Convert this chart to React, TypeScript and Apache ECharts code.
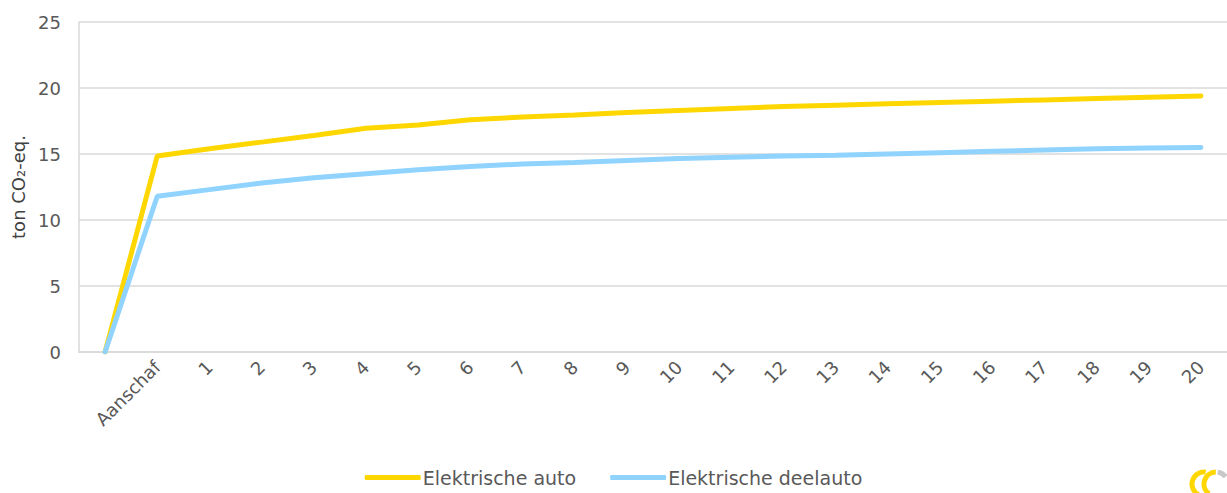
import React, { useEffect, useRef } from "react";
import * as echarts from "echarts";

const categories = ["", "Aanschaf", "1", "2", "3", "4", "5", "6", "7", "8", "9", "10", "11", "12", "13", "14", "15", "16", "17", "18", "19", "20"];
const elektrischeAuto = [0, 14.85, 15.4, 15.9, 16.4, 16.95, 17.2, 17.6, 17.8, 17.95, 18.15, 18.3, 18.45, 18.6, 18.7, 18.8, 18.9, 19.0, 19.1, 19.2, 19.3, 19.4];
const elektrischeDeelauto = [0, 11.8, 12.3, 12.8, 13.2, 13.5, 13.8, 14.05, 14.25, 14.35, 14.5, 14.65, 14.75, 14.85, 14.9, 15.0, 15.1, 15.2, 15.3, 15.4, 15.45, 15.5];
const seriesNames = ["Elektrische auto", "Elektrische deelauto"];
const colors = ["#FFD700", "#8FD3FE"];

export default function App() {
  const ref = useRef<HTMLDivElement>(null);
  useEffect(() => {
    if (!ref.current) return;
    const chart = echarts.init(ref.current, undefined, { renderer: "svg" });
    const font = "'DejaVu Sans', Verdana, sans-serif";
    chart.setOption({
      animation: false,
      textStyle: { fontFamily: font },
      grid: { left: 79, right: 0, top: 22, bottom: 141, containLabel: false },
      legend: {
        bottom: 1,
        left: "center",
        itemWidth: 56,
        itemHeight: 5,
        itemGap: 34,
        icon: "roundRect",
        textStyle: { fontSize: 19, color: "#595959", fontFamily: font, padding: [0, 0, 0, -3] },
        data: seriesNames,
      },
      xAxis: {
        type: "category",
        data: categories,
        boundaryGap: true,
        axisLine: { lineStyle: { color: "#d9d9d9", width: 1.5 } },
        axisTick: { show: false },
        axisLabel: { rotate: 45, fontSize: 18, color: "#595959", margin: 12, interval: 0 },
      },
      yAxis: {
        type: "value",
        min: 0,
        max: 25,
        interval: 5,
        name: "ton CO₂-eq.",
        nameLocation: "middle",
        nameGap: 52,
        nameTextStyle: { fontSize: 18, color: "#404040" },
        axisLine: { show: true, lineStyle: { color: "#d9d9d9", width: 1.5 } },
        axisTick: { show: false },
        axisLabel: { fontSize: 18, color: "#595959", margin: 18 },
        splitLine: { lineStyle: { color: "#d9d9d9", width: 1.5 } },
      },
      series: [
        {
          name: seriesNames[0],
          type: "line",
          data: elektrischeAuto,
          symbol: "none",
          lineStyle: { color: colors[0], width: 5, cap: "round" },
          itemStyle: { color: colors[0] },
        },
        {
          name: seriesNames[1],
          type: "line",
          data: elektrischeDeelauto,
          symbol: "none",
          lineStyle: { color: colors[1], width: 5, cap: "round" },
          itemStyle: { color: colors[1] },
        },
      ],
      graphic: [
        { type: "arc", x: 1204, y: 484, rotation: -0.3, shape: { cx: 0, cy: 0, r: 12, startAngle: Math.PI * 0.55, endAngle: Math.PI * 1.45 }, style: { stroke: "#FFD700", lineWidth: 5, fill: "none" } },
        { type: "arc", x: 1216, y: 484, rotation: -0.3, shape: { cx: 0, cy: 0, r: 12, startAngle: Math.PI * 0.6, endAngle: Math.PI * 1.4 }, style: { stroke: "#FFD700", lineWidth: 5, fill: "none" } },
        { type: "arc", x: 1216, y: 484, rotation: -0.3, shape: { cx: 0, cy: 0, r: 12, startAngle: Math.PI * 1.45, endAngle: Math.PI * 1.7 }, style: { stroke: "#c8c8c8", lineWidth: 5, fill: "none" } },
      ],
    });
    return () => chart.dispose();
  }, []);
  return <div ref={ref} style={{ position: "fixed", left: 0, top: 0, width: 1227, height: 493, background: "#fff" }} />;
}
